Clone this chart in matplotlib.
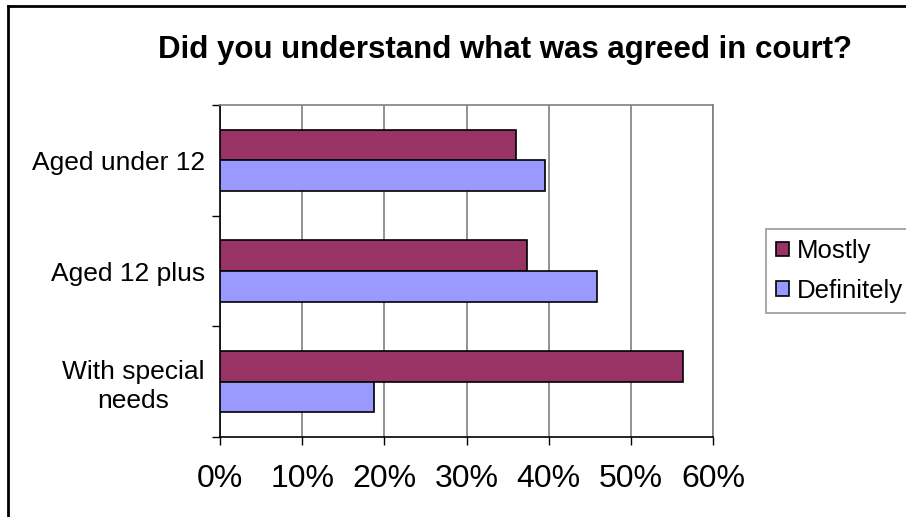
import matplotlib.pyplot as plt
from matplotlib.lines import Line2D
import numpy as np

plt.rcParams['font.family'] = ['Liberation Sans', 'DejaVu Sans']

# survey answers (share of respondents)
groups = ['Aged under 12', 'Aged 12 plus', 'With special\nneeds']
mostly = [0.360, 0.374, 0.564]
definitely = [0.396, 0.459, 0.187]
series = ['Mostly', 'Definitely']
ticks = [0, 0.1, 0.2, 0.3, 0.4, 0.5, 0.6]

fig = plt.figure(figsize=(9.06, 5.17), dpi=100, facecolor='white')
ax = fig.add_axes([220 / 906, 80 / 517, 493 / 906, 332 / 517])

y = np.arange(len(groups))
h = 0.276
ax.barh(y - h / 2, mostly, height=h, color='#993366', edgecolor='black',
        linewidth=1.2, label=series[0], zorder=3)
ax.barh(y + h / 2, definitely, height=h, color='#9999FF', edgecolor='black',
        linewidth=1.2, label=series[1], zorder=3)

ax.set_xlim(0, 0.6)
ax.set_ylim(len(groups) - 0.5, -0.5)
ax.set_xticks(ticks)
ax.set_xticklabels([f'{int(t * 100)}%' for t in ticks], fontsize=23)
ax.tick_params(axis='x', length=6, width=1, pad=13.5, color='black')

ax.set_yticks(y)
ax.set_yticklabels(groups, fontsize=19)
ax.tick_params(axis='y', which='major', length=0, pad=11)
for lab in ax.get_yticklabels():
    lab.set_multialignment('center')
    lab.set_linespacing(1.25)
ax.set_yticks(np.arange(-0.5, len(groups)), minor=True)
ax.tick_params(axis='y', which='minor', length=6, width=1, color='black')

ax.grid(axis='x', color='#808080', linewidth=1.2, zorder=0)
ax.spines['left'].set_color('black')
ax.spines['bottom'].set_color('black')
ax.spines['top'].set_color('#808080')
ax.spines['right'].set_color('#808080')
for s in ax.spines.values():
    s.set_linewidth(1.2)

fig.text(505 / 906, 1 - 58 / 517, 'Did you understand what was agreed in court?',
         ha='center', va='baseline', fontsize=22.5, fontweight='bold')

leg = fig.legend(loc='upper left', bbox_to_anchor=(766 / 906, 1 - 229 / 517),
                 fontsize=18.5, frameon=True, fancybox=False, handlelength=0.5,
                 handleheight=0.5, handletextpad=0.3, labelspacing=0.6,
                 borderpad=0.4, borderaxespad=0)
leg.get_frame().set_edgecolor('#808080')
leg.get_frame().set_linewidth(1.2)
for p in leg.get_patches():
    p.set_linewidth(1.2)

# outer chart border (cut off at right and bottom)
fig.add_artist(Line2D([8 / 906, 8 / 906], [0, 1 - 6 / 517], transform=fig.transFigure,
                      color='black', linewidth=2))
fig.add_artist(Line2D([8 / 906, 1], [1 - 6 / 517, 1 - 6 / 517], transform=fig.transFigure,
                      color='black', linewidth=2))

fig.savefig('out.png', dpi=100)
